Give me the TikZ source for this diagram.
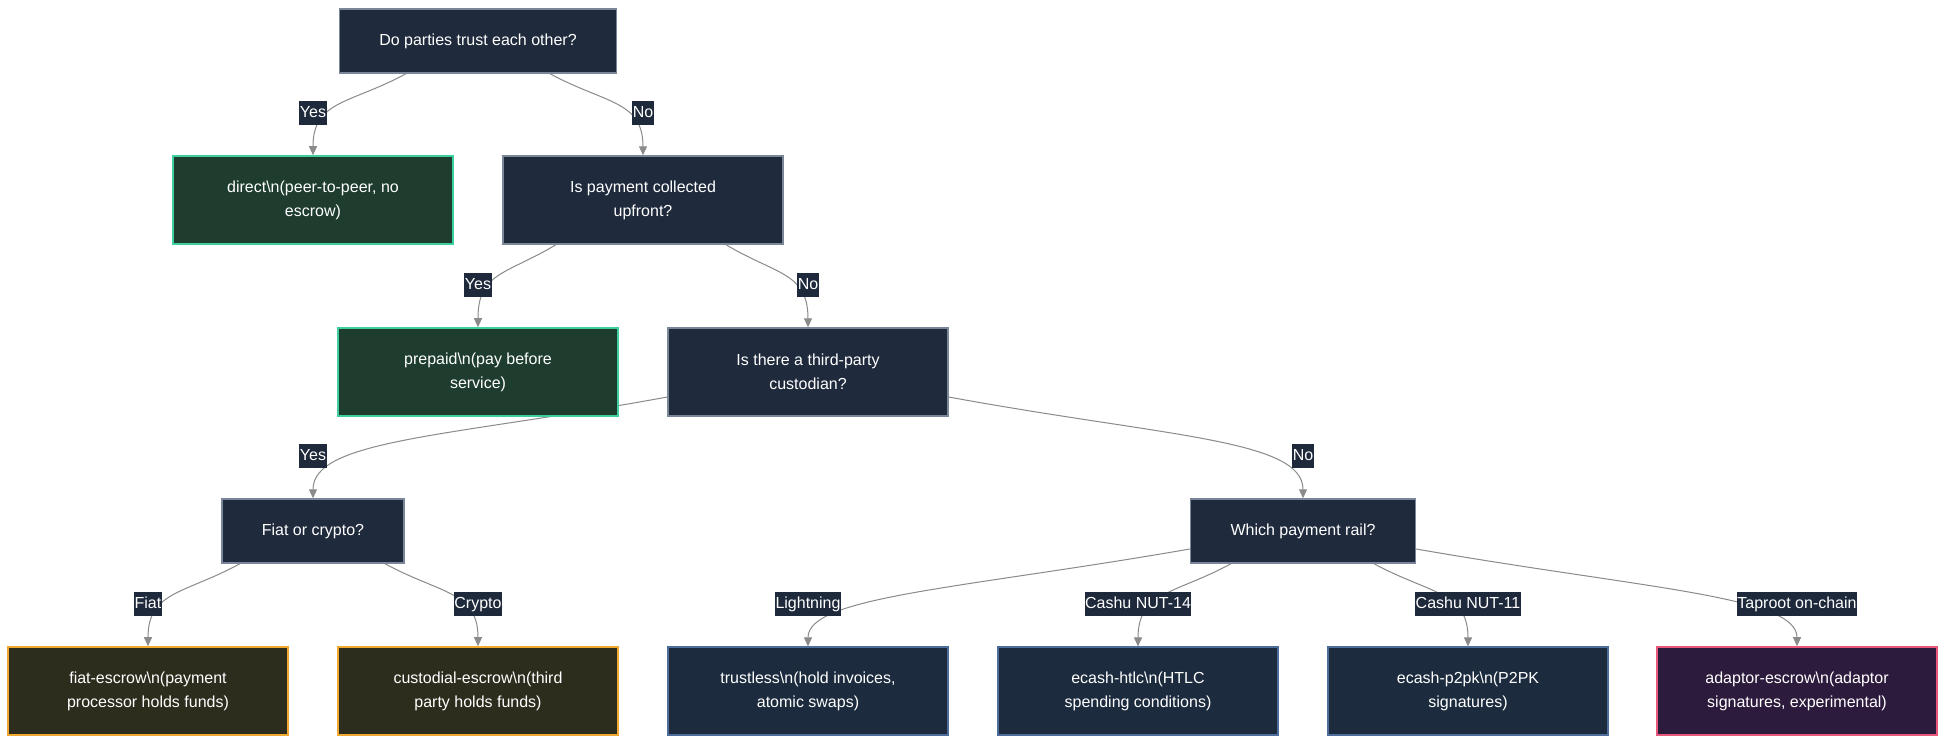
\documentclass[tikz,border=0pt]{standalone}
\usepackage{fontspec}
\setmainfont{Liberation Sans}
\usetikzlibrary{arrows.meta,positioning,backgrounds}
\definecolor{qFill}{HTML}{1F2A3C}
\definecolor{qLine}{HTML}{7A8699}
\definecolor{okFill}{HTML}{1E3D2F}
\definecolor{okLine}{HTML}{3ECF9E}
\definecolor{custFill}{HTML}{2D2D1E}
\definecolor{custLine}{HTML}{F0A830}
\definecolor{railFill}{HTML}{1C2B3E}
\definecolor{railLine}{HTML}{4D6D9A}
\definecolor{expFill}{HTML}{2D1B3D}
\definecolor{expLine}{HTML}{E8587A}
\definecolor{wire}{HTML}{8A8A8A}
\definecolor{tagFill}{HTML}{1E293B}
\newcommand{\nl}{\textbackslash n}
\tikzset{
    >={Triangle[length=9pt,width=8pt]},
    box/.style={rectangle, text=white, font=\fontsize{16}{24}\selectfont,
                align=center, minimum width=280pt, minimum height=88pt,
                inner sep=0pt, line width=1.4pt},
    question/.style={box, fill=qFill, draw=qLine},
    short q/.style={question, minimum width=0pt, minimum height=64pt, inner xsep=40pt},
    direct/.style={box, fill=okFill, draw=okLine, line width=1.6pt},
    custodial/.style={box, fill=custFill, draw=custLine, line width=1.6pt},
    protocol/.style={box, fill=railFill, draw=railLine, line width=1.2pt},
    experimental/.style={box, fill=expFill, draw=expLine, line width=1.6pt},
    branch/.style={wire, line width=1pt, ->},
    answer/.style={fill=tagFill, text=white, font=\fontsize{16}{24}\selectfont,
                   text height=11.5pt, text depth=3.5pt,
                   inner xsep=0.5pt, inner ysep=4.5pt},
}

\begin{document}
\begin{tikzpicture}[x=1pt, y=-1pt]
\path[use as bounding box] (0,0) rectangle (1946,744);

% decisions
\node[short q] (trust) at (478,41) {Do parties trust each other?};
\node[question] (upfront) at (643,200) {Is payment collected\\upfront?};
\node[question] (third) at (808,372) {Is there a third-party\\custodian?};
\node[short q] (fiatq) at (313,531) {Fiat or crypto?};
\node[short q] (railq) at (1303,531) {Which payment rail?};

% outcomes
\node[direct] (direct) at (313,200) {direct\nl(peer-to-peer, no\\escrow)};
\node[direct] (prepaid) at (478,372) {prepaid\nl(pay before\\service)};
\node[custodial] (fiatesc) at (148,691) {fiat-escrow\nl(payment\\processor holds funds)};
\node[custodial] (custesc) at (478,691) {custodial-escrow\nl(third\\party holds funds)};
\node[protocol] (trustless) at (808,691) {trustless\nl(hold invoices,\\atomic swaps)};
\node[protocol] (htlc) at (1138,691) {ecash-htlc\nl(HTLC\\spending conditions)};
\node[protocol] (p2pk) at (1468,691) {ecash-p2pk\nl(P2PK\\signatures)};
\node[experimental] (adaptor) at (1797,691) {adaptor-escrow\nl(adaptor\\signatures, experimental)};

% connectors
\begin{scope}[on background layer]
    \fill[white] (0,0) rectangle (1946,744);
    \draw[branch] ([xshift=-72pt]trust.south) .. controls +(-55,30) and +(0,-55) .. (direct.north);
    \draw[branch] ([xshift=72pt]trust.south) .. controls +(55,30) and +(0,-55) .. (upfront.north);
    \draw[branch] ([xshift=-87pt]upfront.south) .. controls +(-50,30) and +(0,-55) .. (prepaid.north);
    \draw[branch] ([xshift=83pt]upfront.south) .. controls +(50,30) and +(0,-55) .. (third.north);
    \draw[branch] ([yshift=-25pt]third.west) .. controls +(-218,40) and +(0,-59) .. (fiatq.north);
    \draw[branch] ([yshift=-25pt]third.east) .. controls +(218,40) and +(0,-59) .. (railq.north);
    \draw[branch] ([xshift=-73pt]fiatq.south) .. controls +(-55,30) and +(0,-55) .. (fiatesc.north);
    \draw[branch] ([xshift=72pt]fiatq.south) .. controls +(55,30) and +(0,-55) .. (custesc.north);
    \draw[branch] ([yshift=-18pt]railq.west) .. controls +(-230,40) and +(0,-50) .. (trustless.north);
    \draw[branch] ([xshift=-72pt]railq.south) .. controls +(-55,30) and +(0,-55) .. (htlc.north);
    \draw[branch] ([xshift=71pt]railq.south) .. controls +(55,30) and +(0,-55) .. (p2pk.north);
    \draw[branch] ([yshift=-18pt]railq.east) .. controls +(230,40) and +(0,-50) .. (adaptor.north);
\end{scope}

% answers
\node[answer, above=30pt of direct] (yes1) {Yes};
\node[answer, above=30pt of upfront] (no1) {No};
\node[answer, above=30pt of prepaid] (yes2) {Yes};
\node[answer, above=30pt of third] (no2) {No};
\node[answer, above=30pt of fiatq] (yes3) {Yes};
\node[answer, above=30pt of railq] (no3) {No};
\node[answer, above=30pt of fiatesc] (fiat) {Fiat};
\node[answer, above=30pt of custesc] (crypto) {Crypto};
\node[answer, above=30pt of trustless] (ln) {Lightning};
\node[answer, above=30pt of htlc] (nut14) {Cashu NUT-14};
\node[answer, above=30pt of p2pk] (nut11) {Cashu NUT-11};
\node[answer, above=30pt of adaptor] (taproot) {Taproot on-chain};

\end{tikzpicture}
\end{document}
